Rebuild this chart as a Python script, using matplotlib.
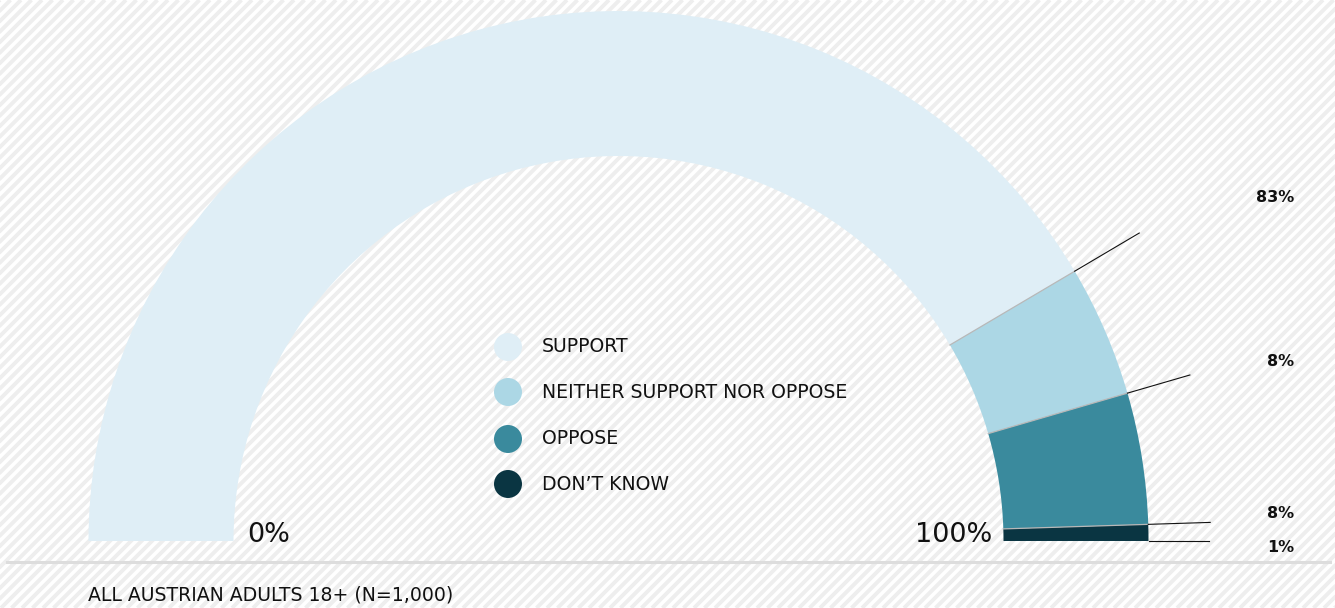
#!/usr/bin/env python3
"""Half-donut gauge: support for a measure among Austrian adults."""
import numpy as np
import matplotlib

matplotlib.use("Agg")
import matplotlib.pyplot as plt
from matplotlib.patches import Wedge, Circle
from matplotlib.collections import LineCollection

# data
categories = ["SUPPORT", "NEITHER SUPPORT NOR OPPOSE", "OPPOSE", "DON\u2019T KNOW"]
values = [83, 8, 8, 1]
value_labels = ["83%", "8%", "8%", "1%"]
colors = ["#dfeef6", "#acd7e5", "#3a8a9d", "#0a3542"]
footer = "ALL AUSTRIAN ADULTS 18+ (N=1,000)"

W, H = 1335, 608
fig = plt.figure(figsize=(W / 100, H / 100), dpi=100)
fig.patch.set_facecolor("white")
ax = fig.add_axes([0, 0, 1, 1])
ax.set_xlim(0, W)
ax.set_ylim(0, H)
ax.set_aspect("equal")
ax.axis("off")

# striped background
c = np.arange(-H, W + H, 10.5)
segs = [[(x0, 0), (x0 + H, H)] for x0 in c]
ax.add_collection(LineCollection(segs, colors="#eeeeee", linewidths=2.8, zorder=0))

# gauge
cx, cy = 618.5, 67
r_out, width = 530, 145
r_in = r_out - width
total = sum(values)
start = 180.0
ends = []
for v, col in zip(values, colors):
    end = start - 180.0 * v / total
    ax.add_patch(Wedge((cx, cy), r_out, end, start, width=width,
                       facecolor=col, edgecolor="none", zorder=2))
    ends.append(end)
    start = end

# separators and leader lines
leader_r = [605, 595, 592, 590]
for a, rl in zip(ends, leader_r):
    t = np.deg2rad(a)
    if a > 0.5:
        ax.plot([cx + r_in * np.cos(t), cx + r_out * np.cos(t)],
                [cy + r_in * np.sin(t), cy + r_out * np.sin(t)],
                color="#b8b8b8", lw=0.9, zorder=3)
    ax.plot([cx + r_out * np.cos(t), cx + rl * np.cos(t)],
            [cy + r_out * np.sin(t), cy + rl * np.sin(t)],
            color="#111111", lw=0.8, zorder=3)

# value labels
label_y = [411, 247, 95, 61]
for lab, y in zip(value_labels, label_y):
    ax.text(1294, y, lab, ha="right", va="center", fontsize=11.5,
            fontweight="bold", color="#111111")

# scale ends
ax.text(r_in - 138, 73, "0%", fontsize=19.5, ha="left", va="center", color="#111111")
ax.text(cx + r_in - 11, 73, "100%", fontsize=19.5, ha="right", va="center", color="#111111")

# legend
leg_y = [261, 216, 169, 124]
for cat, col, y in zip(categories, colors, leg_y):
    ax.add_patch(Circle((508, y), 14, facecolor=col, edgecolor="none", zorder=2))
    ax.text(542, y, cat, fontsize=13.6, ha="left", va="center", color="#111111")

# baseline and footer
ax.plot([7, 1330], [46, 46], color="#dddddd", lw=2.2, zorder=1)
ax.text(88, 13, footer, fontsize=13.6, ha="left", va="center", color="#111111")

fig.savefig("out.png", dpi=100, facecolor="white")
